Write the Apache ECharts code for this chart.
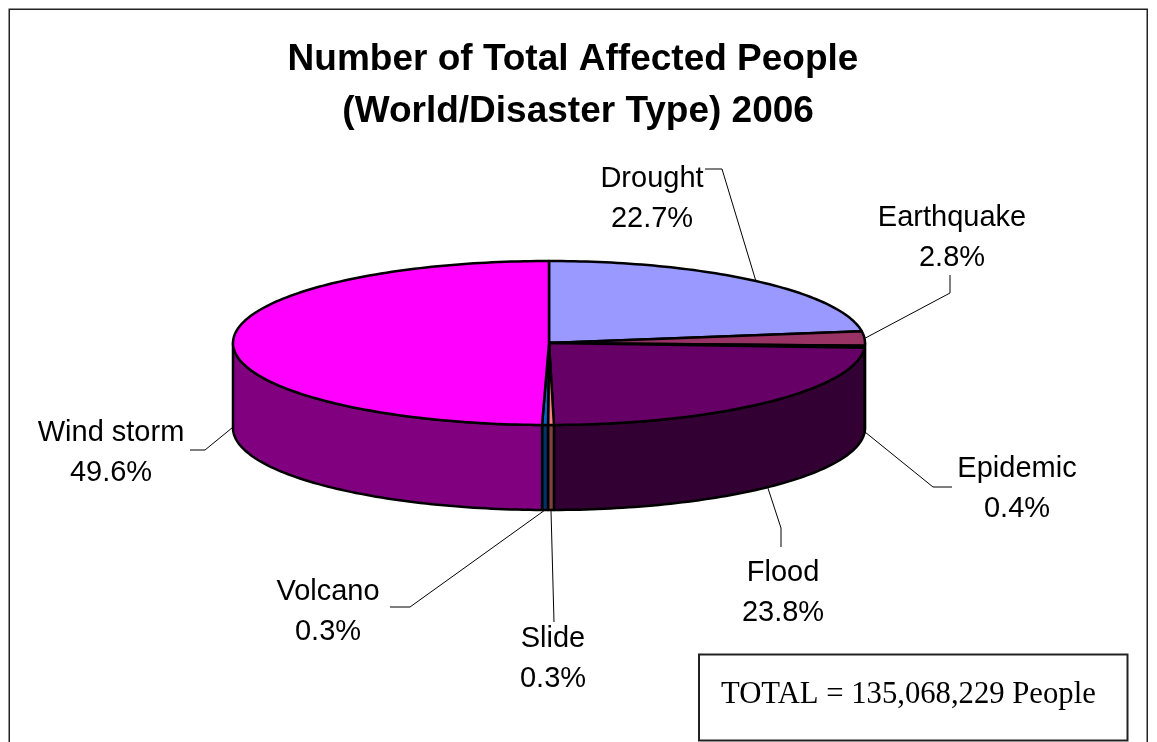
<!DOCTYPE html>
<html>
<head>
<meta charset="utf-8">
<style>html,body{margin:0;padding:0;background:#fff}#chart{width:1157px;height:742px}</style>
<script src="https://cdn.jsdelivr.net/npm/echarts@6/dist/echarts.min.js"></script>
</head>
<body>
<div id="chart"></div>
<script>
// Affected people by disaster type, share of the world total in percent.
const categories = ['Drought', 'Earthquake', 'Epidemic', 'Flood', 'Slide', 'Volcano', 'Wind storm'];
const shares = [22.7, 2.8, 0.4, 23.8, 0.3, 0.3, 49.6];
const totalNote = 'TOTAL = 135,068,229 People';
const titleText = 'Number of Total Affected People\n (World/Disaster Type) 2006';

const topColors = ['#9999FF', '#993366', '#FFFFCC', '#660066', '#FF8080', '#0066CC', '#FF00FF'];
const wallColors = ['#4D4D80', '#4D1A33', '#808066', '#330033', '#804040', '#003366', '#800080'];

// Tilted disc geometry.
const CX = 549, CY = 343, RX = 316, RY = 82, DEPTH = 85;

// Label centre and the elbow of each leader line, by slice.
const labelSpots = [
  {x: 652, y: 199, elbow: [[722, 169], [705, 169]]},
  {x: 952, y: 238, elbow: [[950, 293], [950, 275]]},
  {x: 1017, y: 489, elbow: [[933, 487], [952, 487]]},
  {x: 783, y: 593, elbow: [[781, 528], [781, 547]]},
  {x: 553, y: 659, elbow: [[554, 622]]},
  {x: 328, y: 612, elbow: [[410, 607], [390, 607]]},
  {x: 111, y: 453, elbow: [[205, 450], [190, 450]]}
];

const sum = shares.reduce((a, b) => a + b, 0);
const starts = [];
shares.reduce((acc, v, i) => { starts[i] = acc; return acc + v; }, 0);

const angleOf = v => v / sum * Math.PI * 2; // clockwise from 12 o'clock
const rim = (a, drop) => [CX + RX * Math.sin(a), CY - RY * Math.cos(a) + (drop || 0)];

function arc(a0, a1, drop) {
  const n = Math.max(2, Math.ceil(Math.abs(a1 - a0) / 0.02));
  const pts = [];
  for (let i = 0; i <= n; i++) pts.push(rim(a0 + (a1 - a0) * i / n, drop));
  return pts;
}

function renderTop(params, api) {
  const i = params.dataIndex;
  const a0 = angleOf(starts[i]), a1 = a0 + angleOf(api.value(0));
  return {
    type: 'polygon',
    shape: {points: [[CX, CY]].concat(arc(a0, a1))},
    style: {fill: topColors[i], stroke: '#000', lineWidth: 2.5, lineJoin: 'round'}
  };
}

function renderWall(params, api) {
  const i = params.dataIndex;
  const a0 = Math.max(angleOf(starts[i]), Math.PI / 2);
  const a1 = Math.min(angleOf(starts[i]) + angleOf(api.value(0)), Math.PI * 1.5);
  if (a1 <= a0) return null;
  return {
    type: 'polygon',
    shape: {points: arc(a0, a1).concat(arc(a1, a0, DEPTH))},
    style: {fill: wallColors[i], stroke: '#000', lineWidth: 2.5, lineJoin: 'round'}
  };
}

function renderLabel(params, api) {
  const i = params.dataIndex;
  const v = api.value(0);
  const mid = angleOf(starts[i] + v / 2);
  // Slices on the near side lead from the foot of the wall.
  const front = mid > Math.PI / 2 && mid < Math.PI * 1.5 + 0.05;
  const spot = labelSpots[i];
  return {
    type: 'group',
    children: [
      {
        type: 'polyline',
        shape: {points: [rim(mid, front ? DEPTH : 0)].concat(spot.elbow)},
        style: {fill: 'none', stroke: '#000', lineWidth: 1}
      },
      {
        type: 'text',
        style: {
          x: spot.x, y: spot.y,
          text: categories[i] + '\n' + v.toFixed(1) + '%',
          align: 'center', verticalAlign: 'middle',
          font: '29px "Liberation Sans", Arial, sans-serif',
          lineHeight: 40, fill: '#000'
        }
      }
    ]
  };
}

const chart = echarts.init(document.getElementById('chart'), null, {renderer: 'canvas'});
const rows = shares.map(v => [v]);
chart.setOption({
  animation: false,
  backgroundColor: '#fff',
  title: {
    text: titleText,
    left: 568, top: 29,
    textAlign: 'center',
    textStyle: {
      fontFamily: '"Liberation Sans", Arial, sans-serif',
      fontWeight: 'bold', fontSize: 37, lineHeight: 52, color: '#000'
    }
  },
  graphic: [
    {type: 'rect', z: 0, shape: {x: 9.25, y: 9.25, width: 1138, height: 760},
     style: {fill: 'none', stroke: '#222', lineWidth: 1.5}},
    {type: 'rect', z: 5, shape: {x: 699, y: 654.5, width: 428.5, height: 86},
     style: {fill: '#fff', stroke: '#222', lineWidth: 2}},
    {type: 'text', z: 6, style: {
      x: 721, y: 695, text: totalNote, verticalAlign: 'middle',
      font: '30.7px "Liberation Serif", "Times New Roman", serif', fill: '#000'
    }}
  ],
  series: [
    {type: 'custom', coordinateSystem: 'none', z: 2, data: rows, renderItem: renderWall, silent: true},
    {type: 'custom', coordinateSystem: 'none', z: 3, data: rows, renderItem: renderTop, silent: true},
    {type: 'custom', coordinateSystem: 'none', z: 4, data: rows, renderItem: renderLabel, silent: true}
  ]
});
</script>
</body>
</html>
